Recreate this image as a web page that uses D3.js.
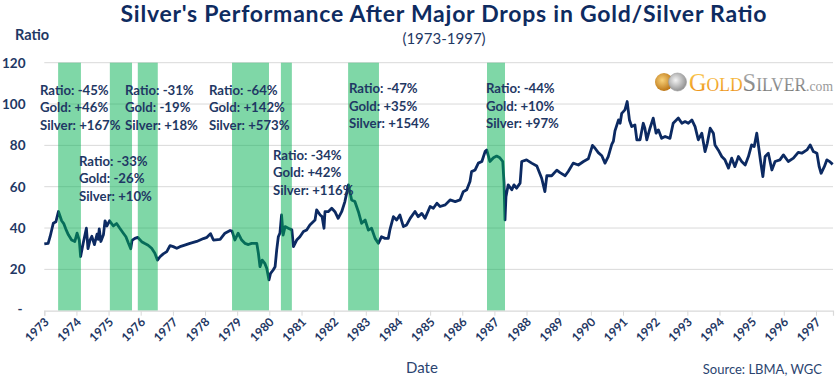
<!DOCTYPE html>
<html>
<head>
<meta charset="utf-8">
<script src="https://cdn.jsdelivr.net/npm/d3@7/dist/d3.min.js"></script>
<style>
  html, body { margin: 0; padding: 0; background: #fff; }
  svg { display: block; }
  text { font-family: Lato, "Open Sans", sans-serif; }
</style>
</head>
<body>
<svg id="chart" width="836" height="378" xmlns="http://www.w3.org/2000/svg" xmlns:xlink="http://www.w3.org/1999/xlink"></svg>
<script>
// ---------------- DATA ----------------
const years = [
1973.00,1973.12,1973.18,1973.28,1973.36,1973.44,1973.54,1973.61,1973.67,1973.75,
1973.85,1973.95,1974.02,1974.09,1974.13,1974.21,1974.31,1974.36,1974.42,1974.48,
1974.56,1974.64,1974.68,1974.71,1974.76,1974.84,1974.89,1974.95,1975.03,1975.15,
1975.25,1975.35,1975.46,1975.54,1975.61,1975.69,1975.73,1975.82,1975.91,1976.03,
1976.13,1976.23,1976.34,1976.44,1976.52,1976.60,1976.70,1976.81,1976.91,1977.01,
1977.12,1977.22,1977.32,1977.53,1977.74,1977.95,1978.06,1978.17,1978.26,1978.47,
1978.62,1978.78,1978.84,1978.93,1979.03,1979.14,1979.24,1979.35,1979.45,1979.61,
1979.66,1979.71,1979.78,1979.86,1979.92,1979.99,1980.04,1980.12,1980.18,1980.23,
1980.28,1980.33,1980.38,1980.43,1980.49,1980.59,1980.70,1980.75,1980.85,1980.95,
1981.06,1981.16,1981.26,1981.42,1981.47,1981.58,1981.64,1981.70,1981.73,1981.83,
1981.94,1982.04,1982.14,1982.25,1982.35,1982.46,1982.56,1982.66,1982.77,1982.87,
1982.98,1983.08,1983.18,1983.29,1983.39,1983.49,1983.60,1983.70,1983.75,1983.86,
1983.96,1984.06,1984.17,1984.27,1984.38,1984.53,1984.63,1984.74,1984.84,1985.00,
1985.10,1985.21,1985.31,1985.47,1985.62,1985.78,1985.93,1986.03,1986.14,1986.24,
1986.29,1986.40,1986.50,1986.61,1986.71,1986.76,1986.86,1986.97,1987.07,1987.17,
1987.26,1987.30,1987.33,1987.36,1987.43,1987.54,1987.61,1987.69,1987.80,1987.85,
1988.00,1988.16,1988.32,1988.47,1988.57,1988.63,1988.78,1988.94,1989.04,1989.20,
1989.30,1989.45,1989.61,1989.77,1989.92,1990.05,1990.13,1990.23,1990.34,1990.44,
1990.54,1990.65,1990.70,1990.75,1990.86,1990.91,1990.96,1991.06,1991.13,1991.20,
1991.27,1991.37,1991.43,1991.53,1991.63,1991.68,1991.74,1991.84,1991.94,1992.03,
1992.10,1992.20,1992.31,1992.46,1992.56,1992.72,1992.83,1992.93,1993.03,1993.14,
1993.24,1993.34,1993.45,1993.55,1993.62,1993.71,1993.81,1993.86,1993.96,1994.07,
1994.17,1994.28,1994.38,1994.48,1994.59,1994.69,1994.80,1994.90,1995.00,1995.08,
1995.16,1995.21,1995.28,1995.35,1995.42,1995.52,1995.63,1995.73,1995.88,1995.99,
1996.14,1996.30,1996.45,1996.56,1996.72,1996.82,1996.92,1997.03,1997.10,1997.16,
1997.26,1997.34,1997.44,1997.52
];
const ratio = [
32.3,32.6,35.8,42.3,43,48,43.5,42,39.5,36.7,
34.2,33.5,37.5,34,26.2,32.6,39.9,30,34,36,
32,37,34.5,39.6,33.5,36.7,43.5,41,43.5,41,
42.2,39.9,37.5,35.8,33,30,34,35,35.5,33.4,
32.5,31.7,30.2,27.8,24.5,26.1,27.5,28.6,31.5,31,
30.2,31,31.5,32.6,33.5,34.9,35.5,37.3,34.2,34.5,
37.5,38.8,38.5,34.2,37.5,34.2,32.6,32,32.6,32.6,
27.8,21.3,24.5,22.9,20.5,14.9,18.1,19.7,21.3,29.4,
35.8,37.5,46.3,36.6,40.7,39.9,39.1,31,34.2,35.8,
38.3,39.1,41.5,43.9,48.8,46.3,45.5,39.9,47.9,47.9,
49.6,47.9,44.7,47.9,52.8,60.9,53.6,52.8,47.9,42.3,
43.9,39,39.9,35,32.6,35.8,35,35,39.1,45.5,
43.9,46.3,40.7,41.5,44.7,48,45.5,47.1,44.7,50.4,
49.6,52,50.4,51.2,53.6,52.8,53.6,57.6,58.5,62.5,
67.3,68.1,71.4,72.2,77,77.8,72.2,74,74.8,74,
72.2,61.7,43.9,55.2,60.9,58.5,60.9,59.3,61.7,72.2,
73,71.4,70,64.1,57.6,65.3,65.3,68,66.8,65.3,
67.5,71.4,70.5,72.2,73.5,80,78.6,76.5,75,71.4,
74.6,80.5,82,87,92.3,90.7,95.5,97.2,101.2,92.3,
89.1,89.9,82.7,82.7,90.7,88.3,82.7,88.3,93.2,85.9,
87.5,83.4,84.3,83.4,90.7,93.2,90.7,91.5,90.7,92.3,
89.1,82.7,85.9,77,81,88.3,85.9,80.2,77.8,74.6,
73,69,73.8,69.7,74.6,72.2,70.5,74.6,80.2,79.4,
85.9,80.2,72.2,64.9,74.6,76.2,68.1,72.2,73,75.4,
72.2,73.8,76.6,76.2,77.8,80.2,77,76.2,69.7,66.5,
69.7,73,72,70.8
];
// periods of major drops in the ratio (decimal years)
const bandStart = [1973.43, 1975.04, 1975.91, 1978.84, 1980.36, 1982.45, 1986.77];
const bandEnd   = [1974.14, 1975.73, 1976.53, 1979.99, 1980.70, 1983.41, 1987.33];
// annotation texts
const annRatio  = ["-45%", "-31%", "-64%", "-47%", "-44%", "-33%", "-34%"];
const annGold   = ["+46%", "-19%", "+142%", "+35%", "+10%", "-26%", "+42%"];
const annSilver = ["+167%", "+18%", "+573%", "+154%", "+97%", "+10%", "+116%"];
const yTicks = [0, 20, 40, 60, 80, 100, 120];
const tickYears = d3.range(1973, 1998);

const title = "Silver's Performance After Major Drops in Gold/Silver Ratio";
const subtitle = "(1973-1997)";

// ---------------- LAYOUT ----------------
const annPos = [[40, 95], [125, 95], [209, 95], [349, 93.3], [486, 93.3], [79, 166], [273, 160]];
const lineGap = 17.3;
const navy = "#0c2a62";
const textNavy = "#1f3864";

function toDate(y) {
  const yr = Math.floor(y);
  const s = new Date(yr, 0, 1), e = new Date(yr + 1, 0, 1);
  return new Date(+s + (y - yr) * (e - s));
}

const svg = d3.select("#chart");
const defs = svg.append("defs");
const x = d3.scaleTime().domain([toDate(1973), toDate(1997.53)]).range([44.3, 833]);
const y = d3.scaleLinear().domain([0, 120]).range([310.7, 62.7]);

// gridlines
svg.append("g").selectAll("line").data(yTicks.filter(d => d > 0)).join("line")
  .attr("x1", x.range()[0]).attr("x2", x.range()[1])
  .attr("y1", d => y(d)).attr("y2", d => y(d))
  .attr("stroke", "#d9d9d9").attr("stroke-width", 1);

// line
const data = years.map((t, i) => ({ t: toDate(t), v: ratio[i] }));
svg.append("path").datum(data)
  .attr("fill", "none").attr("stroke", navy).attr("stroke-width", 2.8)
  .attr("stroke-linejoin", "round")
  .attr("d", d3.line().x(d => x(d.t)).y(d => y(d.v)));

// bands
svg.append("g").selectAll("rect").data(bandStart).join("rect")
  .attr("x", (d) => x(toDate(d)))
  .attr("width", (d, i) => x(toDate(bandEnd[i])) - x(toDate(d)))
  .attr("y", y(120)).attr("height", y(0) - y(120))
  .attr("fill", "#00b050").attr("fill-opacity", 0.5);

// x axis (ticks + line)
const xAxis = d3.axisBottom(x).tickValues(tickYears.map(d => toDate(d))).tickSize(5).tickFormat("");
const gx = svg.append("g").attr("transform", `translate(0,${y(0)})`).call(xAxis);
gx.select(".domain").attr("stroke", "#d9d9d9").attr("stroke-width", 1.2);
gx.selectAll(".tick line").attr("stroke", "#d9d9d9");

// diagonal (-45 deg) year labels laid along short paths
const c45 = Math.SQRT1_2, pathLen = 45;
defs.selectAll("path.yl").data(tickYears).join("path")
  .attr("class", "yl")
  .attr("id", d => "yl" + d)
  .attr("d", d => {
    const ex = x(toDate(d)) + 5.5, ey = y(0) + 12;
    return `M${ex - pathLen * c45},${ey + pathLen * c45}L${ex},${ey}`;
  });
svg.append("g").selectAll("text").data(tickYears).join("text")
  .attr("font-size", 12).attr("font-weight", 700).attr("fill", textNavy)
  .append("textPath")
  .attr("href", d => "#yl" + d)
  .attr("xlink:href", d => "#yl" + d)
  .attr("startOffset", "100%")
  .attr("text-anchor", "end")
  .text(d => d);

// y axis labels
svg.append("g").selectAll("text").data(yTicks).join("text")
  .attr("x", d => d === 0 ? 22.5 : 25.5).attr("y", d => y(d) + (d === 0 ? 3 : 4.8))
  .attr("text-anchor", "end")
  .attr("font-size", 13.5).attr("font-weight", 700).attr("fill", textNavy)
  .text(d => d === 0 ? "-" : d);

svg.append("text").attr("x", 15).attr("y", 40)
  .attr("font-size", 14.5).attr("font-weight", 700).attr("fill", textNavy).text("Ratio");

// annotations
const ann = svg.append("g");
annPos.forEach((p, i) => {
  const lines = ["Ratio: " + annRatio[i], "Gold: " + annGold[i], "Silver: " + annSilver[i]];
  lines.forEach((s, k) => {
    ann.append("text").attr("x", p[0]).attr("y", p[1] + k * lineGap)
      .attr("font-size", 13.2).attr("font-weight", 700).attr("fill", textNavy).text(s);
  });
});

// title
svg.append("text").attr("x", 443.5).attr("y", 22).attr("text-anchor", "middle")
  .attr("font-size", 23).attr("font-weight", 700).attr("fill", "#0e2b60")
  .attr("textLength", 646).attr("lengthAdjust", "spacing").text(title);
svg.append("text").attr("x", 444).attr("y", 43.5).attr("text-anchor", "middle")
  .attr("font-size", 15).attr("fill", textNavy).text(subtitle);

svg.append("text").attr("x", 406).attr("y", 373.3)
  .attr("font-size", 15).attr("fill", "#2b4470").text("Date");
svg.append("text").attr("x", 822).attr("y", 374).attr("text-anchor", "end")
  .attr("font-size", 13).attr("fill", "#2b4470").text("Source: LBMA, WGC");

// logo
const gg = defs.append("linearGradient").attr("id", "goldTxt").attr("x1", 0).attr("y1", 0).attr("x2", 0).attr("y2", 1);
gg.append("stop").attr("offset", "0%").attr("stop-color", "#fcd25a");
gg.append("stop").attr("offset", "100%").attr("stop-color", "#ea8a12");
const sg = defs.append("linearGradient").attr("id", "silverTxt").attr("x1", 0).attr("y1", 0).attr("x2", 0).attr("y2", 1);
sg.append("stop").attr("offset", "0%").attr("stop-color", "#b8b8b8");
sg.append("stop").attr("offset", "100%").attr("stop-color", "#707070");
const gc = defs.append("radialGradient").attr("id", "goldCoin").attr("cx", "40%").attr("cy", "40%").attr("r", "65%");
gc.append("stop").attr("offset", "0%").attr("stop-color", "#f9d27a");
gc.append("stop").attr("offset", "100%").attr("stop-color", "#b8700f");
const scn = defs.append("radialGradient").attr("id", "silverCoin").attr("cx", "40%").attr("cy", "40%").attr("r", "65%");
scn.append("stop").attr("offset", "0%").attr("stop-color", "#f4f4f4");
scn.append("stop").attr("offset", "100%").attr("stop-color", "#8c8c8c");

const logo = svg.append("g");
logo.append("circle").attr("cx", 664).attr("cy", 82).attr("r", 9).attr("fill", "url(#goldCoin)");
logo.append("circle").attr("cx", 677.5).attr("cy", 82).attr("r", 9).attr("fill", "url(#silverCoin)").attr("stroke", "#9a9a9a").attr("stroke-width", 0.6);
const lt = logo.append("text").attr("x", 689).attr("y", 90.7)
  .style("font-family", "'Liberation Serif', 'DejaVu Serif', serif");
lt.append("tspan").attr("font-size", 25).attr("fill", "url(#goldTxt)").text("G");
lt.append("tspan").attr("font-size", 18).attr("fill", "url(#goldTxt)").text("OLD");
lt.append("tspan").attr("font-size", 25).attr("fill", "url(#silverTxt)").text("S");
lt.append("tspan").attr("font-size", 18).attr("fill", "url(#silverTxt)").text("ILVER");
lt.append("tspan").attr("font-size", 14).attr("fill", "#9a9a9a").text(".com");
if (lt.node().getComputedTextLength() > 144) lt.attr("textLength", 144).attr("lengthAdjust", "spacingAndGlyphs");
</script>
</body>
</html>
